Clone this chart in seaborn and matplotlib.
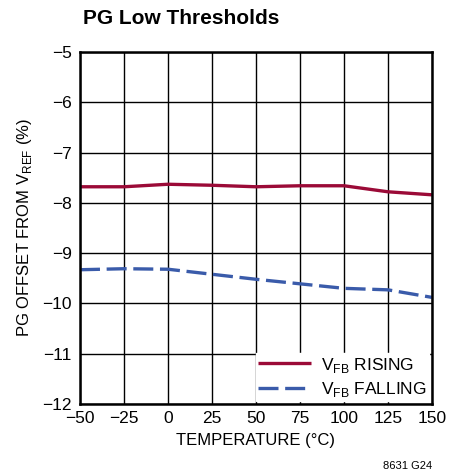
#!/usr/bin/env python3

import pandas as pd
import seaborn as sns
import matplotlib.pyplot as plt

temperature = [-50, -25, 0, 25, 50, 75, 100, 125, 150]
vfb_rising = [-7.68, -7.68, -7.63, -7.65, -7.68, -7.66, -7.66, -7.78, -7.84]
vfb_falling = [-9.33, -9.31, -9.32, -9.42, -9.52, -9.61, -9.70, -9.73, -9.88]
series_names = [r"V$_{\mathregular{FB}}$ RISING", r"V$_{\mathregular{FB}}$ FALLING"]

df = pd.concat([
    pd.DataFrame({"temp": temperature, "offset": vfb_rising, "series": series_names[0]}),
    pd.DataFrame({"temp": temperature, "offset": vfb_falling, "series": series_names[1]}),
])

sns.set_style("white")
plt.rcParams["font.family"] = ["Liberation Sans", "DejaVu Sans"]
plt.rcParams["mathtext.fontset"] = "custom"
plt.rcParams["mathtext.rm"] = "Liberation Sans"
plt.rcParams["text.color"] = "black"
plt.rcParams["axes.labelcolor"] = "black"
plt.rcParams["xtick.color"] = "black"
plt.rcParams["ytick.color"] = "black"

fig = plt.figure(figsize=(4.65, 4.75), dpi=100)
ax = fig.add_axes([0.172, 0.1495, 0.757, 0.741])

sns.lineplot(data=df, x="temp", y="offset", hue="series", style="series",
             palette=["#9B0A37", "#3A5BAA"], dashes=[(1, 0), (6, 2)],
             linewidth=2.4, ax=ax)

ax.set_xlim(-50, 150)
ax.set_ylim(-12, -5)
ax.set_xticks(temperature)
ax.set_yticks(range(-12, -4))
ax.grid(True, color="black", linewidth=1)
ax.tick_params(axis="x", length=0, labelsize=12.5, pad=5)
ax.tick_params(axis="y", length=0, labelsize=12.5, pad=6)
for s in ax.spines.values():
    s.set_color("black")
    s.set_linewidth(1.8)

ax.set_xlabel("TEMPERATURE (°C)", fontsize=12, labelpad=5)
ax.set_ylabel(r"PG OFFSET FROM V$_{\mathregular{REF}}$ (%)", fontsize=12, labelpad=6)

leg = ax.legend(loc="lower right", fontsize=12.5, frameon=True, fancybox=False,
                handlelength=3.0, borderaxespad=0.15, borderpad=0.15,
                labelspacing=0.3, handletextpad=0.6)
leg.get_frame().set_edgecolor("white")
leg.get_frame().set_facecolor("white")
leg.get_frame().set_alpha(1)

fig.text(0.178, 0.962, "PG Low Thresholds", fontsize=15, fontweight="bold",
         ha="left", va="center")
fig.text(0.929, 0.018, "8631 G24", fontsize=8, ha="right", va="center")

plt.savefig("out.png", dpi=100)
